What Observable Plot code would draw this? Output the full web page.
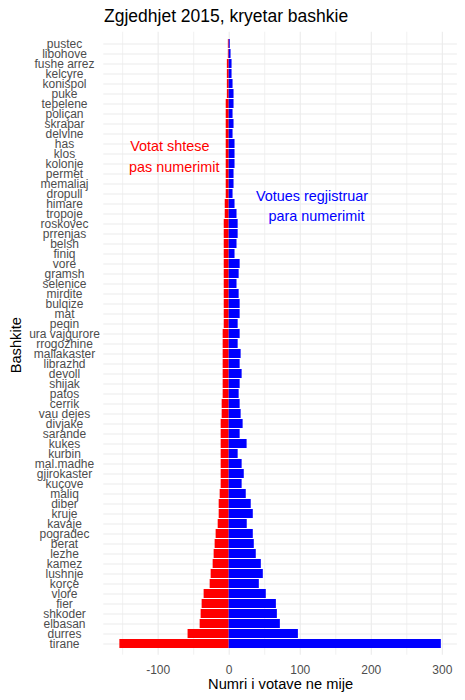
<!DOCTYPE html>
<html>
<head>
<meta charset="utf-8">
<script src="https://cdn.jsdelivr.net/npm/d3@7"></script>
<script src="https://cdn.jsdelivr.net/npm/@observablehq/plot@0.6"></script>
<style>
  body { margin: 0; background: #ffffff; }
  #title { height: 26px; padding-left: 104px; font: 17.5px "Liberation Sans", Arial, sans-serif; line-height: 32px; color: #000; white-space: nowrap; }
  #chart svg { display: block; }
</style>
</head>
<body>
<div id="title">Zgjedhjet 2015, kryetar bashkie</div>
<div id="chart"></div>
<script>
const categories = ["pustec","libohove","fushe arrez","kelcyre","konispol","puke","tepelene","poliçan","skrapar","delvine","has","klos","kolonje","permet","memaliaj","dropull","himare","tropoje","roskovec","prrenjas","belsh","finiq","vore","gramsh","selenice","mirdite","bulqize","mat","peqin","ura vajgurore","rrogozhine","mallakaster","librazhd","devoll","shijak","patos","cerrik","vau dejes","divjake","sarande","kukes","kurbin","mal.madhe","gjirokaster","kuçove","maliq","diber","kruje","kavaje","pogradec","berat","lezhe","kamez","lushnje","korçe","vlore","fier","shkoder","elbasan","durres","tirane"];

// Votat shtese pas numerimit (negative side)
const votatShtese = [-1.2,-1.2,-2.6,-2.6,-2.6,-2.6,-4.2,-4.2,-4.2,-4.2,-4.2,-4.2,-4.2,-4.2,-4.2,-4.2,-5.6,-5.6,-7,-7,-7,-7,-7,-7,-7,-7,-7,-7,-7,-8.5,-8.5,-8.5,-8.5,-8.5,-8.5,-8.5,-9.9,-9.9,-11.3,-11.3,-11.3,-11.3,-11.3,-11.3,-11.3,-12.7,-14.1,-14.1,-15.5,-18.4,-19.8,-21.2,-22.6,-25.4,-26.8,-35.3,-38.1,-39.5,-40.9,-57.9,-153.9];

// Votues regjistruar para numerimit (positive side)
const votuesRegjistruar = [1.5,2.6,4,4,5.4,6.8,6.8,5.4,6.8,5.4,8.2,8.2,8.2,6.8,6.8,5.4,8.2,11,12.6,12.6,11,8.2,15.4,14,11,14,15.4,15.4,12.6,15.4,12.6,16.8,15.4,18.2,15.4,14,15.4,16.8,19.6,15.4,25.2,12.6,18.2,21.2,18.2,24,31,33.9,25.4,33.9,35.3,38.1,45.2,48,42.4,52.2,66.4,67.8,72,97.4,298.6];

const xTicks = [-100, 0, 100, 200, 300];
const xMinorTicks = [-150, -50, 50, 150, 250];

const rows = categories.map((name, i) => ({name, shtese: votatShtese[i], regj: votuesRegjistruar[i]}));
const lo = d3.min(votatShtese), hi = d3.max(votuesRegjistruar);
const pad = (hi - lo) * 0.05;

const FONT = '"Liberation Sans", Arial, sans-serif';

const chart = Plot.plot({
  width: 465,
  height: 674,
  marginTop: 5.7,
  marginBottom: 45.3,
  marginLeft: 103.3,
  marginRight: 8.1,
  style: {fontFamily: FONT, background: "#ffffff", color: "#000000", overflow: "visible"},
  x: {domain: [lo - pad, hi + pad]},
  y: {domain: categories, paddingInner: 0.1, paddingOuter: 0.15, align: 0.5},
  marks: [
    Plot.gridX({ticks: xMinorTicks, stroke: "#EBEBEB", strokeOpacity: 1, strokeWidth: 0.7}),
    Plot.gridX({ticks: xTicks, stroke: "#EBEBEB", strokeOpacity: 1, strokeWidth: 1.1}),
    Plot.gridY({stroke: "#EBEBEB", strokeOpacity: 1, strokeWidth: 1.1}),
    Plot.barX(rows, {y: "name", x1: 0, x2: "shtese", fill: "#FF0000"}),
    Plot.barX(rows, {y: "name", x1: 0, x2: "regj", fill: "#0000FF"}),
    Plot.axisX({ticks: xTicks, tickFormat: d => String(d), tickSize: 0, tickPadding: 10, fontSize: 12, color: "#4D4D4D", label: null}),
    Plot.axisY({tickSize: 0, tickPadding: 39.3, textAnchor: "middle", fontSize: 12, color: "#4D4D4D", label: null}),
    Plot.text(["Numri i votave ne mije"], {text: d => d, frameAnchor: "bottom", lineAnchor: "bottom", dy: 34.1, fontSize: 14.67, fill: "#000000"}),
    Plot.text(["Bashkite"], {text: d => d, frameAnchor: "left", rotate: -90, textAnchor: "middle", lineAnchor: "bottom", dx: -82.8, dy: 1.5, fontSize: 14.67, fill: "#000000"}),
    Plot.text(["Votat shtese"], {text: d => d, x: () => -83.6, y: () => "klos", lineAnchor: "bottom", dy: -3, fontSize: 14.4, fill: "#FF0000"}),
    Plot.text(["pas numerimit"], {text: d => d, x: () => -77.4, y: () => "klos", lineAnchor: "bottom", dy: 17.7, fontSize: 14.4, fill: "#FF0000"}),
    Plot.text(["Votues regjistruar"], {text: d => d, x: () => 116.6, y: () => "himare", lineAnchor: "bottom", dy: -3.5, fontSize: 14.4, fill: "#0000FF"}),
    Plot.text(["para numerimit"], {text: d => d, x: () => 122.9, y: () => "himare", lineAnchor: "bottom", dy: 17.2, fontSize: 14.4, fill: "#0000FF"})
  ]
});
document.getElementById("chart").appendChild(chart);
</script>
</body>
</html>
